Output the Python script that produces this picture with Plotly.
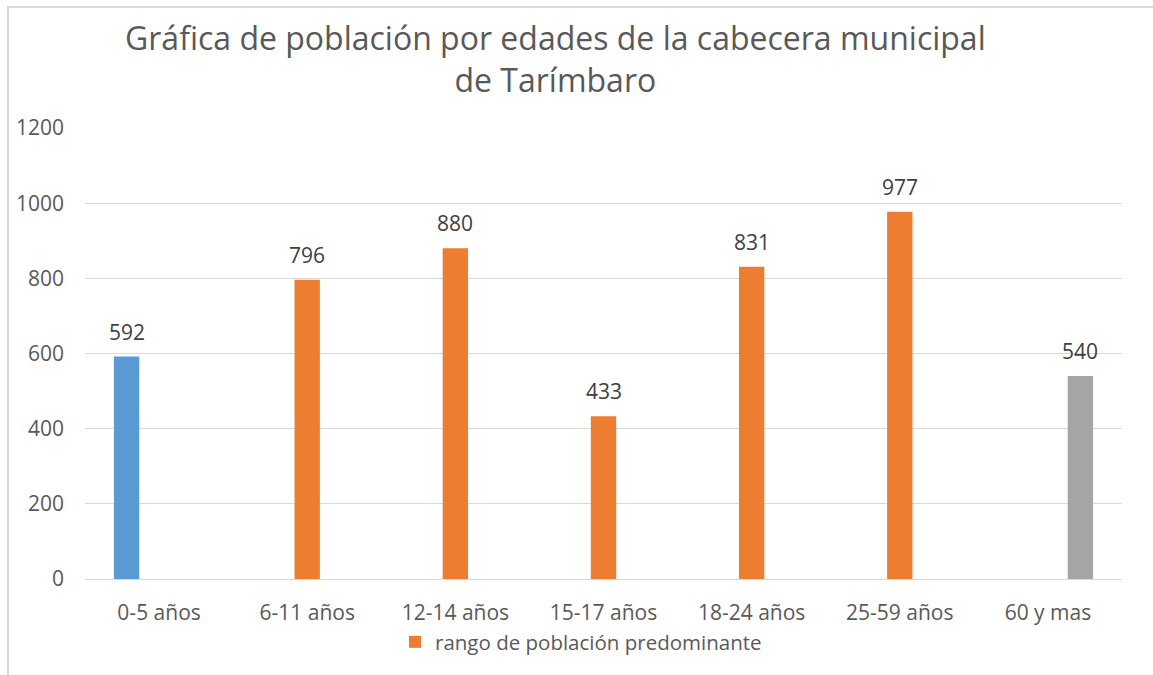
import plotly.graph_objects as go

categories = ["0-5 años", "6-11 años", "12-14 años", "15-17 años", "18-24 años", "25-59 años", "60 y mas"]
serie_azul = [592, None, None, None, None, None, None]
serie_naranja = [None, 796, 880, 433, 831, 977, None]
serie_gris = [None, None, None, None, None, None, 540]
legend_name = "rango de población predominante"
title_text = "Gráfica de población por edades de la cabecera municipal<br>de Tarímbaro"
y_ticks = [0, 200, 400, 600, 800, 1000, 1200]

W, H = 1153, 675
ML, MR, MT, MB = 85, 31, 128, 96
BARGAP, GROUPGAP = 0.342, 0.22
FONT = "Open Sans"
TXT = "#595959"

series = [
    (serie_azul, "#5B9BD5", "0-5 años", False),
    (serie_naranja, "#ED7D31", legend_name, True),
    (serie_gris, "#A5A5A5", "60 y mas", False),
]

fig = go.Figure()
for vals, color, name, show in series:
    fig.add_trace(go.Bar(x=categories, y=vals, name=name, marker=dict(color=color, line=dict(width=0)),
                         showlegend=show))

plot_w = W - ML - MR
plot_h = H - MT - MB


def px_to_paper_x(px):
    return (px - ML) / plot_w


def px_to_paper_y(py):
    return (H - MB - py) / plot_h


slot = plot_w / len(categories) * (1 - BARGAP) / len(series)
annotations = []
for si, (vals, color, name, show) in enumerate(series):
    for c, v in zip(categories, vals):
        if v is None:
            continue
        annotations.append(dict(x=c, y=v, xref="x", yref="y", text=str(v), showarrow=False,
                                xshift=(si - 1) * slot, yshift=25, yanchor="middle",
                                font=dict(family=FONT, size=21, color="#404040")))

annotations.append(dict(text=title_text, xref="paper", yref="paper", x=px_to_paper_x(555),
                        y=px_to_paper_y(59), xanchor="center", yanchor="middle", showarrow=False,
                        font=dict(family=FONT, size=32, color=TXT)))

shapes = [
    dict(type="line", xref="paper", yref="paper", x0=px_to_paper_x(8), x1=px_to_paper_x(8),
         y0=px_to_paper_y(7), y1=px_to_paper_y(H + 2), line=dict(color="#D9D9D9", width=2)),
    dict(type="line", xref="paper", yref="paper", x0=px_to_paper_x(7), x1=px_to_paper_x(W + 2),
         y0=px_to_paper_y(7), y1=px_to_paper_y(7), line=dict(color="#D9D9D9", width=2)),
]

fig.update_layout(
    width=W, height=H,
    margin=dict(l=ML, r=MR, t=MT, b=MB),
    paper_bgcolor="white", plot_bgcolor="white",
    barmode="group", bargap=BARGAP, bargroupgap=GROUPGAP,
    font=dict(family=FONT, color=TXT),
    xaxis=dict(showgrid=False, showline=False, zeroline=False, ticks="",
               tickfont=dict(family=FONT, size=21, color=TXT), ticklabelstandoff=19),
    yaxis=dict(range=[0, 1200], tickvals=y_ticks, showgrid=True, gridcolor="#D9D9D9", gridwidth=1,
               zeroline=True, zerolinecolor="#D9D9D9", zerolinewidth=1, showline=False, ticks="",
               tickfont=dict(family=FONT, size=21, color=TXT), ticklabelstandoff=20),
    legend=dict(orientation="h", x=px_to_paper_x(395), xanchor="left", y=px_to_paper_y(642),
                yanchor="middle", font=dict(family=FONT, size=20.5, color=TXT),
                itemsizing="constant"),
    annotations=annotations,
    shapes=shapes,
)

fig.write_html("out.html", config={"displayModeBar": False},
               post_script="document.body.style.margin='0';")
